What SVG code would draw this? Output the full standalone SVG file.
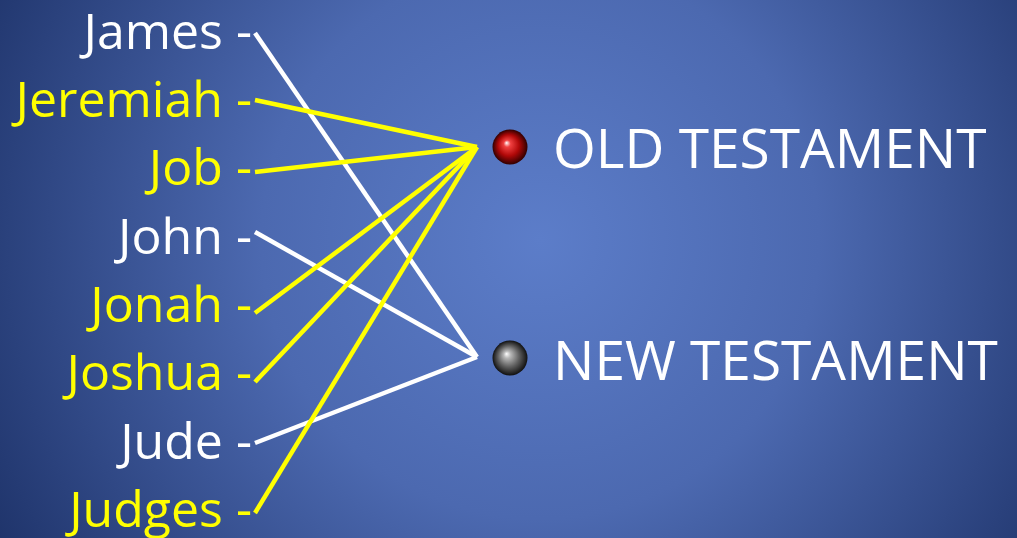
<svg xmlns="http://www.w3.org/2000/svg" width="1017" height="538" viewBox="0 0 1017 538">
<defs>
<radialGradient id="bg" gradientUnits="userSpaceOnUse" cx="540" cy="240" r="620">
<stop offset="0" stop-color="#5c7dc9"/>
<stop offset="0.45" stop-color="#4c69b0"/>
<stop offset="1" stop-color="#1f346b"/>
</radialGradient>
<radialGradient id="red" cx="0.5" cy="0.5" r="0.5" fx="0.4" fy="0.38">
<stop offset="0" stop-color="#ffffff"/>
<stop offset="0.2" stop-color="#f04040"/>
<stop offset="0.6" stop-color="#b00808"/>
<stop offset="1" stop-color="#300000"/>
</radialGradient>
<radialGradient id="grey" cx="0.5" cy="0.5" r="0.5" fx="0.4" fy="0.38">
<stop offset="0" stop-color="#ffffff"/>
<stop offset="0.2" stop-color="#b8b8b8"/>
<stop offset="0.6" stop-color="#606060"/>
<stop offset="1" stop-color="#101010"/>
</radialGradient>
</defs>
<style>
text{font-family:"Open Sans","Liberation Sans",sans-serif;}
.b{font-size:50px;text-anchor:end;}
.w{fill:#ffffff;}
.y{fill:#ffff00;}
.t{font-size:55px;fill:#ffffff;}
.lw{stroke:#ffffff;stroke-width:4.5;fill:none;}
.ly{stroke:#ffff00;stroke-width:4.5;fill:none;}
</style>
<rect width="1017" height="538" fill="url(#bg)"/>
<g id="connectors">
<line class="lw" x1="255" y1="33" x2="477" y2="357"/>
<line class="lw" x1="255" y1="232" x2="477" y2="357"/>
<line class="lw" x1="255" y1="443" x2="477" y2="357"/>
<line class="ly" x1="255" y1="100" x2="477" y2="147"/>
<line class="ly" x1="255" y1="172" x2="477" y2="147"/>
<line class="ly" x1="255" y1="313" x2="477" y2="147"/>
<line class="ly" x1="255" y1="382" x2="477" y2="147"/>
<line class="ly" x1="255" y1="513" x2="477" y2="147"/>
</g>
<g id="james"><text class="b w" x="252" y="49">James -</text></g>
<g id="jeremiah"><text class="b y" x="252" y="117">Jeremiah -</text></g>
<g id="job"><text class="b y" x="252" y="185">Job -</text></g>
<g id="john"><text class="b w" x="252" y="254">John -</text></g>
<g id="jonah"><text class="b y" x="252" y="322">Jonah -</text></g>
<g id="joshua"><text class="b y" x="252" y="390">Joshua -</text></g>
<g id="jude"><text class="b w" x="252" y="459">Jude -</text></g>
<g id="judges"><text class="b y" x="252" y="527">Judges -</text></g>
<g id="old-testament">
<circle cx="510" cy="147" r="17.5" fill="url(#red)"/>
<text class="t" x="553" y="168">OLD TESTAMENT</text>
</g>
<g id="new-testament">
<circle cx="510" cy="358" r="17.5" fill="url(#grey)"/>
<text class="t" x="553" y="380">NEW TESTAMENT</text>
</g>
</svg>
